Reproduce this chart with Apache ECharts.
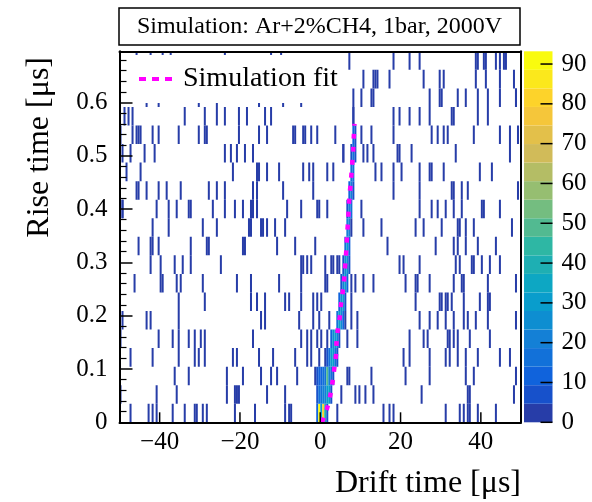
<!DOCTYPE html>
<html><head><meta charset="utf-8">
<script src="https://cdn.jsdelivr.net/npm/echarts@6/dist/echarts.min.js"></script>
<style>html,body{margin:0;padding:0;background:#fff}#c{width:592px;height:502px}</style>
</head><body><div id="c"></div>
<script>
// ---------------- data ----------------
const driftMin = -50, driftMax = 50, driftBin = 0.5;
const riseMin = 0, riseMax = 0.696, riseBins = 20;
const colorMax = 93.2, colorLevels = 20;
const xTickValues = [-40, -20, 0, 20, 40];
const colorTickValues = [0, 10, 20, 30, 40, 50, 60, 70, 80, 90];

// single-count bins (drift time, one list per rise-time bin, bottom to top)
const noiseDrift = [
  [-47.1,-42.9,-41.7,-40.6,-36.7,-33.6,-31.1,-30.7,-29.5,-28.2,-21.3,-16.5,-8.6,-7.8,-7.4,4.2,15.6,17.0,18.3,31.1,34.7,35.6,36.5,37.3,39.4,43.5],
  [-49.7,-40.6,-35.6,-23.2,-21.3,-20.8,-20.2,-13.4,-9.0,5.3,8.5,9.8,11.3,13.3,25.3,36.5,37.1,48.1],
  [-36.5,-32.6,-23.2,-19.1,-15.0,-12.3,-10.8,-5.7,6.5,7.4,12.9,21.2,27.0,36.1,38.1,48.5],
  [-47.1,-41.7,-35.5,-31.5,-30.3,-28.7,-21.8,-20.6,-15.5,-11.7,-6.1,-3.2,-2.2,-0.5,1.3,20.8,22.4,27.0,31.1,32.3,34.2,36.1,39.0,44.7,47.2],
  [-49.7,-40.3,-36.7,-35.3,-32.8,-31.3,-29.7,-28.7,-16.6,-5.0,-3.2,-2.4,-0.9,0.1,1.7,6.7,9.2,22.4,25.5,26.8,31.5,32.3,33.2,34.2,37.3,42.1],
  [-49.5,-43.1,-42.1,-35.1,-14.8,-14.0,-5.3,-1.6,-0.1,2.2,7.5,9.4,24.5,27.4,29.0,31.1,33.0,35.8,36.9,38.5,41.6,48.5],
  [-35.1,-28.7,-17.5,-15.6,-14.0,-8.6,-8.0,-5.0,-1.6,-0.9,0.2,7.7,23.7,29.7,30.3,31.1,31.9,32.8,35.6,39.6,41.6,42.3],
  [-46.2,-39.8,-39.5,-35.6,-34.7,-29.5,-21.0,-17.1,-10.5,-4.9,1.3,1.9,7.5,8.8,10.8,13.2,21.2,23.7,24.2,27.0,33.2,35.2,35.6,41.9,48.9],
  [-42.5,-40.0,-36.3,-34.5,-32.2,-24.6,-5.0,-4.5,-3.2,-2.4,1.3,2.6,3.4,4.2,4.9,19.8,20.6,24.5,33.6,34.8,37.7,38.3,40.2,42.3,44.7],
  [-45.2,-42.1,-41.7,-40.4,-32.3,-28.5,-28.0,-19.1,-18.8,-10.7,-6.1,-1.2,16.6,28.6,33.2,34.0,36.3,39.1,43.5],
  [-41.9,-38.0,-29.3,-25.7,-18.0,-17.5,-15.0,-14.4,-13.3,-11.1,-8.9,10.7,15.0,23.7,25.7,30.0,34.2,34.8,36.3,38.0,47.6],
  [-49.5,-49.1,-40.9,-38.0,-35.6,-32.6,-32.2,-26.6,-23.7,-21.4,-19.4,-17.3,-16.9,-15.8,-8.2,-5.0,-0.9,-0.3,1.9,10.4,24.7,27.8,29.4,31.1,33.0,35.2,40.2,40.6,44.7],
  [-45.8,-45.4,-43.3,-40.3,-38.1,-34.7,-27.9,-26.0,-23.7,-16.9,-15.6,-9.4,-2.0,18.3,24.7,32.6,33.0,35.2,36.6,49.3],
  [-48.5,-44.6,-21.8,-15.8,-15.2,-13.2,-10.5,-4.5,-2.8,-1.7,1.7,3.4,13.5,15.0,18.4,20.3,24.5,27.2,27.8,30.5,39.6,42.9],
  [-49.5,-47.5,-43.8,-41.4,-23.9,-22.2,-21.0,-18.8,-16.6,5.5,5.9,10.7,11.8,13.3,19.1,19.5,22.6,33.8,47.1],
  [-49.9,-46.6,-45.8,-45.2,-44.7,-41.7,-40.3,-35.3,-30.4,-28.7,-28.2,-20.4,-15.5,-13.3,-6.9,-6.5,-4.5,-3.6,-2.2,-0.6,3.8,10.4,12.9,18.1,27.5,29.4,30.9,31.7,38.1,44.7,47.1,49.3],
  [-48.7,-47.7,-46.6,-33.7,-28.7,-26.0,-23.9,-20.4,-18.3,-14.0,-12.2,8.2,18.3,19.9,22.3,24.5,27.0,32.8,33.2,39.0,41.9],
  [-43.3,-40.4,-30.5,-25.6,-15.2,-9.4,-4.9,8.2,10.4,12.7,13.3,27.4,29.7,30.0,34.2,36.3,39.4,41.9,44.6,48.5,48.9],
  [10.8,13.3,13.7,14.1,17.3,25.7,29.9,30.5,38.8,41.4,44.7,48.1],
  [-45.8,-42.1,-39.2,-37.1,-23.9,-12.3,-9.8,7.1,18.3,22.0,24.5,38.5,39.1,40.6,41.4,43.5,44.7,45.6,46.4]
];

// signal band: bin lower edges (drift) and counts, per rise-time bin
const bandDrift = [
  [-1.0,-0.5,0,0.5,1.0,1.5],
  [-1.0,-0.5,0,0.5,1.0,1.5,2.0,2.5],
  [-1.5,-1.0,-0.5,0,0.5,1.0,1.5,2.0,2.5,3.0],
  [1.5,2.0,2.5,3.0,3.5,4.0],
  [2.5,3.0,3.5,4.0,4.5],
  [4.0,4.5,5.0,5.5,6.0],
  [4.5,5.0,5.5,6.0],
  [5.0,5.5,6.0,6.5],
  [5.5,6.0,6.5,7.0],
  [6.0,6.5,7.0],
  [6.5,7.0,7.5],
  [6.5,7.0,7.5],
  [7.0,7.5,8.0],
  [7.5,8.0],
  [7.5,8.0,8.5],
  [8.0,8.5],
  [8.0]
];
const bandCount = [
  [12,93,30,80,40,8],
  [6,14,16,22,20,28,32,5],
  [2,8,10,12,14,15,48,20,16,6],
  [8,18,28,30,15,5],
  [10,25,30,22,8],
  [15,28,25,12,4],
  [10,26,30,8],
  [6,22,30,10],
  [8,26,24,5],
  [14,28,10],
  [20,22,4],
  [6,22,15],
  [12,20,6],
  [15,14],
  [6,16,5],
  [10,9],
  [2]
];

// simulation fit curve
const fitDrift = [0.45,1.74,2.56,3.14,3.56,3.97,4.05,4.38,4.88,5.21,5.7,6.04,6.29,6.53,6.7,6.95,7.11,7.36,7.69,7.94,8.19,8.35,8.52];
const fitRise  = [0.0,0.027,0.053,0.079,0.105,0.13,0.149,0.174,0.199,0.224,0.25,0.277,0.302,0.328,0.353,0.38,0.406,0.431,0.458,0.483,0.51,0.535,0.56];

// ---------------- build ----------------
const FONT = '"Liberation Serif","DejaVu Serif",serif';
const riseStep = (riseMax - riseMin) / riseBins;
const levelStep = colorMax / colorLevels;

const birdStops = [0, .125, .25, .375, .5, .625, .75, .875, 1];
const birdR = [0.2082,0.0592,0.0780,0.0232,0.1802,0.5301,0.8186,0.9956,0.9764];
const birdG = [0.1664,0.3599,0.5041,0.6419,0.7178,0.7492,0.7328,0.7862,0.9832];
const birdB = [0.5293,0.8684,0.8385,0.7914,0.6425,0.4662,0.3499,0.1968,0.0539];
function bird(t) {
  let k = 0;
  while (k < birdStops.length - 2 && t > birdStops[k + 1]) k++;
  const f = (t - birdStops[k]) / (birdStops[k + 1] - birdStops[k]);
  const c = a => Math.round(255 * (a[k] + f * (a[k + 1] - a[k])));
  return 'rgb(' + c(birdR) + ',' + c(birdG) + ',' + c(birdB) + ')';
}
function levelColor(level) {
  const idx = Math.floor((level + 0.99) * 255 / colorLevels);
  return bird(idx / 254);
}
function countColor(c) {
  const level = Math.min(colorLevels - 1, Math.floor(c / levelStep));
  return levelColor(level);
}
function snap(d) { return driftMin + Math.floor((d - driftMin) / driftBin + 1e-9) * driftBin; }

const cells = [];
noiseDrift.forEach((row, r) => row.forEach(d => cells.push([snap(d), riseMin + r * riseStep, 1])));
bandDrift.forEach((row, r) => row.forEach((d, i) => cells.push([snap(d), riseMin + r * riseStep, bandCount[r][i]])));

const fitData = fitDrift.map((d, i) => [d, fitRise[i]]);
const levelData = [];
for (let i = 0; i < colorLevels; i++) levelData.push([0, i * levelStep, (i + 1) * levelStep, i]);

const chart = echarts.init(document.getElementById('c'), null, { renderer: 'canvas' });
const tickFont = { color: '#000', fontFamily: FONT, fontSize: 25 };
const blackLine = { color: '#000', width: 2 };

function tickSeries(xi, yi, values, toPoint, dx, dy) {
  return { type: 'custom', xAxisIndex: xi, yAxisIndex: yi, z: 12, clip: false, silent: true,
    data: values.map(v => [v]),
    renderItem: function (params, api) {
      const p = api.coord(toPoint(api.value(0)));
      return { type: 'line', shape: { x1: p[0], y1: p[1], x2: p[0] + dx, y2: p[1] + dy },
        style: { stroke: '#000', lineWidth: 1.5 } };
    } };
}

chart.setOption({
  animation: false,
  backgroundColor: '#fff',
  grid: [
    { left: 119.5, top: 51.3, width: 401.5, height: 371, containLabel: false },
    { left: 524, top: 51.3, width: 28.5, height: 371, containLabel: false }
  ],
  xAxis: [
    { gridIndex: 0, type: 'value', min: driftMin, max: driftMax, position: 'bottom', z: 10,
      axisLine: { show: true, onZero: false, lineStyle: blackLine },
      axisTick: { show: false },
      axisLabel: { show: true, customValues: xTickValues, margin: 8, ...tickFont,
        formatter: v => (v < 0 ? '\u2212' + (-v) : String(v)) },
      splitLine: { show: false } },
    { gridIndex: 0, type: 'value', min: driftMin, max: driftMax, position: 'top', z: 10,
      axisLine: { show: true, onZero: false, lineStyle: blackLine },
      axisTick: { show: false }, axisLabel: { show: false }, splitLine: { show: false } },
    { gridIndex: 1, type: 'value', min: 0, max: 1, show: false }
  ],
  yAxis: [
    { gridIndex: 0, type: 'value', min: riseMin, max: riseMax, interval: 0.1, position: 'left', z: 10,
      axisLine: { show: true, onZero: false, lineStyle: blackLine },
      axisTick: { show: true, inside: true, length: 13, lineStyle: { color: '#000', width: 1.5 } },
      minorTick: { show: true, splitNumber: 5, length: 7, lineStyle: { color: '#000', width: 1.2 } },
      axisLabel: { show: true, margin: 12, showMaxLabel: false, ...tickFont,
        formatter: v => (Math.abs(v) < 1e-9 ? '0' : (Math.round(v * 10) / 10).toFixed(1)) },
      splitLine: { show: false }, minorSplitLine: { show: false } },
    { gridIndex: 0, type: 'value', min: riseMin, max: riseMax, position: 'right', z: 10,
      axisLine: { show: true, onZero: false, lineStyle: blackLine },
      axisTick: { show: false }, axisLabel: { show: false }, splitLine: { show: false } },
    { gridIndex: 1, type: 'value', min: 0, max: colorMax, position: 'right', z: 10,
      axisLine: { show: false },
      axisTick: { show: false },
      axisLabel: { show: true, customValues: colorTickValues, margin: 9, ...tickFont },
      splitLine: { show: false } }
  ],
  legend: {
    show: true, left: 121, top: 55, orient: 'horizontal',
    backgroundColor: '#fff', borderWidth: 0,
    padding: [8, 10, 8, 18], itemGap: 0,
    itemWidth: 33, itemHeight: 4, selectedMode: false, z: 4,
    textStyle: { color: '#000', fontFamily: FONT, fontSize: 28, lineHeight: 32, padding: [0, 0, 0, 6] },
    data: [{ name: 'Simulation fit', icon: 'path://M0,0h7v4h-7z M13,0h7v4h-7z M26,0h7v4h-7z', itemStyle: { color: '#ff00ff' } }]
  },
  series: [
    { type: 'custom', name: 'counts', xAxisIndex: 0, yAxisIndex: 0, z: 2, clip: true,
      data: cells,
      renderItem: function (params, api) {
        const x = api.value(0), y = api.value(1), c = api.value(2);
        const a = api.coord([x, y + riseStep]);
        const b = api.coord([x + driftBin, y]);
        return { type: 'rect', shape: { x: a[0], y: a[1], width: b[0] - a[0], height: b[1] - a[1] },
          style: { fill: countColor(c) } };
      } },
    { type: 'line', name: 'Simulation fit', xAxisIndex: 0, yAxisIndex: 0, z: 3,
      data: fitData, smooth: 0.3, symbol: 'none', showSymbol: false,
      itemStyle: { color: '#ff00ff' },
      lineStyle: { color: '#ff00ff', width: 4.5, type: [5, 8] } },
    { type: 'custom', name: 'palette', xAxisIndex: 2, yAxisIndex: 2, z: 2,
      data: levelData,
      renderItem: function (params, api) {
        const lo = api.value(1), hi = api.value(2), lv = api.value(3);
        const a = api.coord([0, hi]);
        const b = api.coord([1, lo]);
        return { type: 'rect', shape: { x: a[0], y: a[1], width: b[0] - a[0], height: b[1] - a[1] },
          style: { fill: levelColor(lv) } };
      } },
    tickSeries(0, 0, xTickValues, v => [v, riseMin], 0, -10),
    tickSeries(2, 2, colorTickValues, v => [1, v], -12, 0)
  ],
  graphic: [
    { type: 'rect', z: 20, shape: { x: 119, y: 8, width: 401, height: 37 },
      style: { fill: '#fff', stroke: '#000', lineWidth: 1.5 } },
    { type: 'text', z: 21, x: 319.5, y: 27,
      style: { text: 'Simulation: Ar+2%CH4, 1bar, 2000V', font: '24px ' + FONT, fill: '#000', align: 'center', verticalAlign: 'middle' } },
    { type: 'text', z: 21, x: 40, y: 57, rotation: Math.PI / 2,
      style: { text: 'Rise time [\u03bcs]', font: '32px ' + FONT, fill: '#000', align: 'right', verticalAlign: 'middle' } },
    { type: 'text', z: 21, x: 521, y: 484,
      style: { text: 'Drift time [\u03bcs]', font: '32px ' + FONT, fill: '#000', align: 'right', verticalAlign: 'middle' } }
  ]
});
</script></body></html>
